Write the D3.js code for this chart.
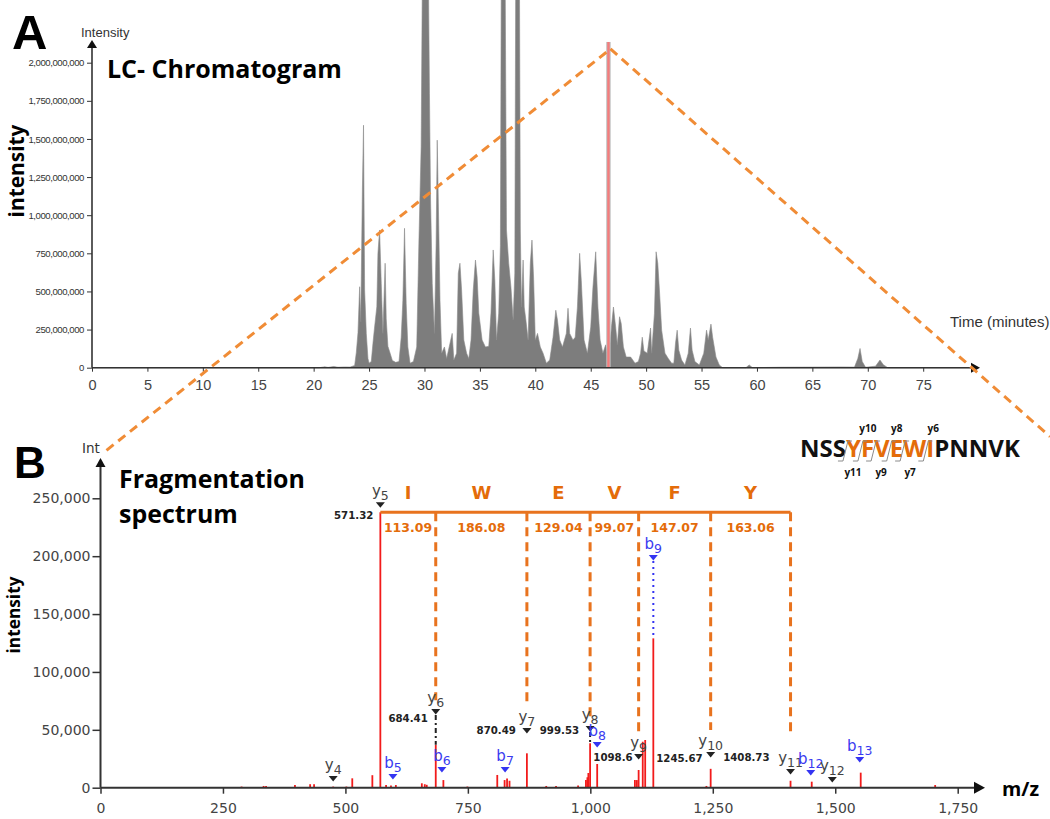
<!DOCTYPE html>
<html><head><meta charset="utf-8">
<script src="https://cdn.jsdelivr.net/npm/d3@7"></script>
<style>body{margin:0;background:#fff}svg{display:block}</style>
</head><body>
<svg id="c" width="1050" height="819"></svg>
<script>
// ---------------- DATA ----------------
// LC chromatogram (time in minutes, intensity in millions)
const chromTime = [0,20.5,21,21.3,21.8,22.2,22.8,23.3,23.7,23.85,24.0,24.15,24.25,24.4,24.5,24.6,24.75,24.9,25.0,25.2,25.35,25.5,25.7,25.8,25.95,26.1,26.25,26.45,26.55,26.7,26.9,27.1,27.4,27.7,27.9,28.05,28.2,28.35,28.5,28.7,29.0,29.3,29.5,29.7,29.85,30.3,30.45,30.55,30.7,30.9,31.05,31.15,31.3,31.4,31.55,31.8,32.0,32.5,32.65,32.9,33.05,33.2,33.35,33.55,33.8,34.0,34.2,34.4,34.6,34.75,34.9,35.2,35.5,35.8,36.0,36.2,36.35,36.5,36.7,36.85,36.95,37.25,37.4,37.6,37.8,38.0,38.15,38.25,38.55,38.65,38.75,38.9,39.0,39.15,39.35,39.55,39.7,39.85,40.0,40.2,40.45,40.7,41.0,41.3,41.6,41.85,42.0,42.2,42.45,42.8,42.95,43.1,43.4,43.6,43.8,44.0,44.15,44.4,44.7,45.0,45.2,45.45,45.65,45.85,46.1,46.35,46.6,46.9,47.05,47.25,47.4,47.6,47.75,47.95,48.2,48.6,49.0,49.3,49.5,49.65,49.8,50.1,50.4,50.5,50.75,50.9,51.05,51.2,51.4,51.7,52.0,52.3,52.5,52.65,52.8,52.95,53.2,53.5,53.8,54.0,54.15,54.4,54.8,55.2,55.45,55.6,55.85,56.0,56.3,56.6,56.9,59.0,59.3,59.6,62,65,67.5,68.8,69.1,69.3,69.5,69.8,70.7,71.1,71.4,71.8,79.3];
const chromInt  = [0,0,6,2,8,3,5,4,15,100,230,531,300,1178,1590,509,225,60,30,40,160,267,400,750,903,552,225,685,320,140,95,48,35,40,200,442,914,420,136,30,40,136,837,1450,3000,3000,1800,1100,553,225,815,1492,880,442,95,136,60,225,50,95,620,685,509,181,95,60,181,509,706,596,358,181,136,140,358,772,570,181,358,800,3000,3000,903,685,530,312,620,3000,3000,903,398,706,398,312,181,685,837,580,181,225,136,95,30,50,200,377,312,181,136,225,390,225,181,200,398,750,570,181,95,267,527,760,398,181,95,150,40,290,398,267,150,334,290,136,70,70,30,40,95,200,110,95,260,95,357,760,685,509,246,95,60,30,30,160,246,115,50,18,95,260,115,40,18,95,246,181,286,200,70,18,0,0,18,0,3,4,5,4,60,126,40,3,10,50,20,0,0];
const chromXTicks = [0,5,10,15,20,25,30,35,40,45,50,55,60,65,70,75];
const chromYTicks = [0,250,500,750,1000,1250,1500,1750,2000]; // millions
const chromYTickLabels = ["0","250,000,000","500,000,000","750,000,000","1,000,000,000","1,250,000,000","1,500,000,000","1,750,000,000","2,000,000,000"];
const highlightTime = 46.6;
const highlightInt = 2136;

// Fragmentation spectrum (m/z, intensity)
const specMz  = [288,333,338,397,428,436,475,502,514,555,571.32,583,593,603,656,662,666,684.41,700,749,810,825,830,835,870.49,910,930,975,991,994,996,999.53,1014,1091,1095,1098.6,1107,1112,1128.6,1237,1245.67,1408.73,1452,1552,1704];
const specInt = [1000,1500,1500,2300,3000,3000,1000,1000,8100,10800,238000,2300,2000,2300,3800,3000,2500,37000,6600,1000,11000,6600,8000,6000,29700,1500,1500,2000,6600,9000,12700,38300,20500,6600,6600,15300,39700,41200,129000,1500,16300,6000,5200,13000,2300];
const specXTicks = [0,250,500,750,1000,1250,1500,1750];
const specYTicks = [0,50000,100000,150000,200000,250000];

// Ion annotations
const ionType  = ["y","y","b","y","b","b","y","y","b","y","b","y","y","b","y","b"];
const ionNum   = ["4","5","5","6","6","7","7","8","8","9","9","10","11","12","12","13"];
const ionMz    = [475,571.32,597,684.41,697,826,870.49,999.53,1014,1098.6,1128.6,1245.67,1408.73,1450,1494,1550];
const ionMarkerInt = [7500,244000,9200,65400,15300,15300,49000,50700,36900,26500,198400,28200,13600,12700,6600,23900];
const ionPeakInt   = [null,null,null,37000,null,null,null,38300,null,null,129000,null,null,null,null,null];

const massLabel    = ["571.32","684.41","870.49","999.53","1098.6","1245.67","1408.73"];
const massLabelMz  = [571.32,684.41,870.49,999.53,1098.6,1245.67,1408.73];
const massLabelInt = [235500,60200,49800,49800,26500,25900,26500];

// Sequence ladder
const residue     = ["I","W","E","V","F","Y"];
const residueMass = ["113.09","186.08","129.04","99.07","147.07","163.06"];
const ladderMz    = [571.32,684.41,870.49,999.53,1098.6,1245.67,1408.73];
const ladderEndInt = [null,75600,74300,61300,47200,49800,44000];
const ladderInt   = 238000;

const peptide = "NSSYFVEWIPNNVK";
const peptideHighlight = [3,4,5,6,7,8];
const breakAfter = [2,3,4,5,6,7];
const breakLabel = ["y11","y10","y9","y8","y7","y6"];

// ---------------- DRAWING ----------------
const svg = d3.select("#c");
const ORANGE_Z = "#F08C36", ORANGE = "#E46C0A", ORANGE_L = "#E8731E";
const AX = "#333";
function fit(sel, target){
  const fs = +sel.attr("font-size");
  const w = sel.node().getComputedTextLength();
  sel.attr("font-size", fs*target/w);
  return sel;
}

// ---- Panel A ----
const cx = d3.scaleLinear().domain([0,75]).range([92,923.2]);
const cy = d3.scaleLinear().domain([0,2000]).range([367.7,62.7]);

const pts = chromTime.map((t,i)=>[t,chromInt[i]]);
svg.append("path").datum(pts)
  .attr("fill","#7d7d7d").attr("stroke","#8a8a8a").attr("stroke-width",0.6)
  .attr("d", d3.area().x(d=>cx(d[0])).y0(cy(0)).y1(d=>cy(d[1])));

// highlighted scan
svg.append("rect").attr("x",cx(highlightTime)-2.2).attr("width",4.4)
  .attr("y",cy(highlightInt)).attr("height",cy(0)-cy(highlightInt)).attr("fill","#bdbdbd");
svg.append("line").attr("x1",cx(highlightTime)).attr("x2",cx(highlightTime))
  .attr("y1",cy(highlightInt)).attr("y2",cy(0)).attr("stroke","#F47C7C").attr("stroke-width",2.4);

// axes A
const gxA = svg.append("g").attr("transform",`translate(0,${cy(0)})`)
  .call(d3.axisBottom(cx).tickValues(chromXTicks).tickSize(4).tickPadding(8));
gxA.select(".domain").remove();
gxA.selectAll("line").attr("stroke",AX);
gxA.selectAll("text").attr("font-family","Liberation Sans, Arial").attr("font-size",14.5).attr("fill","#444");
svg.append("line").attr("x1",cx(0)).attr("x2",973).attr("y1",cy(0)).attr("y2",cy(0)).attr("stroke",AX).attr("stroke-width",1.6);
svg.append("path").attr("d",`M${980},${cy(0)} l-9,-5 l0,10 Z`).attr("fill","#111");

const gyA = svg.append("g").attr("transform",`translate(${cx(0)},0)`)
  .call(d3.axisLeft(cy).tickValues(chromYTicks).tickSize(5).tickPadding(3).tickFormat((d,i)=>chromYTickLabels[i]));
gyA.select(".domain").remove();
gyA.selectAll("line").attr("stroke",AX);
gyA.selectAll("text").attr("font-family","Liberation Sans, Arial").attr("font-size",9.6).attr("letter-spacing","-0.45").attr("fill","#333");
svg.append("line").attr("x1",cx(0)).attr("x2",cx(0)).attr("y1",cy(0)).attr("y2",46).attr("stroke",AX).attr("stroke-width",1.6);
svg.append("path").attr("d",`M${cx(0)},${40} l-5,8 l10,0 Z`).attr("fill","#111");

svg.append("text").attr("x",81).attr("y",37).text("Intensity")
  .attr("font-family","Liberation Sans, Arial").attr("font-size",13).attr("fill","#333");
svg.append("text").attr("x",950).attr("y",327).text("Time (minutes)")
  .attr("font-family","Liberation Sans, Arial").attr("font-size",15).attr("fill","#333");
svg.append("text").attr("x",12).attr("y",49).text("A")
  .attr("font-family","Liberation Sans, Arial").attr("font-weight","bold").attr("font-size",49).attr("fill","#000");
fit(svg.append("text").attr("x",107).attr("y",78).text("LC- Chromatogram")
  .attr("font-family","Open Sans").attr("font-weight","bold").attr("font-size",22).attr("fill","#000"), 235);
fit(svg.append("text").attr("transform","translate(24,171) rotate(-90)").attr("text-anchor","middle").text("intensity")
  .attr("font-family","Open Sans").attr("font-weight","bold").attr("font-size",18).attr("fill","#000"), 93);

// ---- Panel B ----
const sx = d3.scaleLinear().domain([0,1750]).range([100.5,957.7]);
const sy = d3.scaleLinear().domain([0,250000]).range([787.7,498.3]);

// zoom lines
const apex = [cx(highlightTime)+2, cy(highlightInt)+7];
svg.append("line").attr("x1",sx(0)+6).attr("y1",sy(250000)-48).attr("x2",apex[0]).attr("y2",apex[1])
  .attr("stroke",ORANGE_Z).attr("stroke-width",3).attr("stroke-dasharray","9,6");
svg.append("line").attr("x1",apex[0]).attr("y1",apex[1]).attr("x2",1050).attr("y2",apex[1]+(1050-apex[0])*0.882)
  .attr("stroke",ORANGE_Z).attr("stroke-width",3).attr("stroke-dasharray","9,6");

// peaks
svg.append("g").selectAll("line").data(specMz).join("line")
  .attr("x1",d=>sx(d)).attr("x2",d=>sx(d)).attr("y1",sy(0)).attr("y2",(d,i)=>sy(specInt[i]))
  .attr("stroke","#F21B1B").attr("stroke-width",1.8);

// axes B
const gxB = svg.append("g").attr("transform",`translate(0,${sy(0)})`)
  .call(d3.axisBottom(sx).tickValues(specXTicks).tickSize(6).tickPadding(9).tickFormat(d3.format(",")));
gxB.select(".domain").remove();
gxB.selectAll("line").attr("stroke",AX).attr("stroke-width",1.5);
gxB.selectAll("text").attr("font-family","DejaVu Sans, Verdana").attr("font-size",14).attr("fill","#444");
svg.append("line").attr("x1",sx(0)).attr("x2",978).attr("y1",sy(0)).attr("y2",sy(0)).attr("stroke",AX).attr("stroke-width",2);
svg.append("path").attr("d",`M${985},${sy(0)} l-11,-6 l0,12 Z`).attr("fill","#111");

const gyB = svg.append("g").attr("transform",`translate(${sx(0)},0)`)
  .call(d3.axisLeft(sy).tickValues(specYTicks).tickSize(8).tickPadding(2).tickFormat(d3.format(",")));
gyB.select(".domain").remove();
gyB.selectAll("line").attr("stroke",AX).attr("stroke-width",1.5);
gyB.selectAll("text").attr("font-family","DejaVu Sans, Verdana").attr("font-size",14).attr("fill","#444");
svg.append("line").attr("x1",sx(0)).attr("x2",sx(0)).attr("y1",sy(0)).attr("y2",465).attr("stroke",AX).attr("stroke-width",2);
svg.append("path").attr("d",`M${sx(0)},${458} l-5,9 l10,0 Z`).attr("fill","#111");

svg.append("text").attr("x",82).attr("y",453).text("Int")
  .attr("font-family","DejaVu Sans, Verdana").attr("font-size",13.5).attr("fill","#333");
fit(svg.append("text").attr("x",1002).attr("y",796).text("m/z")
  .attr("font-family","Open Sans").attr("font-weight","bold").attr("font-size",22).attr("fill","#000"), 37);
svg.append("text").attr("x",14).attr("y",478).text("B")
  .attr("font-family","Liberation Sans, Arial").attr("font-weight","bold").attr("font-size",44).attr("fill","#000");
const fr = fit(svg.append("text").attr("x",119).attr("y",488).text("Fragmentation")
  .attr("font-family","Open Sans").attr("font-weight","bold").attr("font-size",23).attr("fill","#000"), 186);
svg.append("text").attr("x",119).attr("y",523).text("spectrum")
  .attr("font-family","Open Sans").attr("font-weight","bold").attr("font-size",fr.attr("font-size")).attr("fill","#000");
fit(svg.append("text").attr("transform","translate(20,615) rotate(-90)").attr("text-anchor","middle").text("intensity")
  .attr("font-family","Open Sans").attr("font-weight","bold").attr("font-size",16).attr("fill","#000"), 77);

// ladder
const ladG = svg.append("g");
ladG.append("line").attr("x1",sx(ladderMz[0])).attr("x2",sx(ladderMz[ladderMz.length-1]))
  .attr("y1",sy(ladderInt)).attr("y2",sy(ladderInt)).attr("stroke",ORANGE_L).attr("stroke-width",3);
ladderMz.forEach((m,i)=>{
  if(ladderEndInt[i]!==null){
    ladG.append("line").attr("x1",sx(m)).attr("x2",sx(m)).attr("y1",sy(ladderInt)).attr("y2",sy(ladderEndInt[i]))
      .attr("stroke",ORANGE_L).attr("stroke-width",3).attr("stroke-dasharray","9,6");
  }
});
residue.forEach((r,i)=>{
  const mid = (sx(ladderMz[i])+sx(ladderMz[i+1]))/2;
  ladG.append("text").attr("x",mid).attr("y",sy(ladderInt)-13).attr("text-anchor","middle").text(r)
    .attr("font-family","DejaVu Sans, Verdana").attr("font-weight","bold").attr("font-size",18).attr("fill",ORANGE);
  ladG.append("text").attr("x",mid).attr("y",sy(ladderInt)+20).attr("text-anchor","middle").text(residueMass[i])
    .attr("font-family","DejaVu Sans, Verdana").attr("font-weight","bold").attr("font-size",12.5).attr("fill",ORANGE);
});

// ion markers
const ionG = svg.append("g");
ionMz.forEach((m,i)=>{
  const x = sx(m), ty = sy(ionMarkerInt[i]);
  const col = ionType[i]==="b" ? "#3434F2" : "#222";
  if(ionPeakInt[i]!==null){
    ionG.append("line").attr("x1",x).attr("x2",x).attr("y1",ty+3).attr("y2",sy(ionPeakInt[i]))
      .attr("stroke",ionType[i]==="b"?"#3434F2":"#222").attr("stroke-width",2)
      .attr("stroke-dasharray", ionType[i]==="b" ? "2,4" : "5,3,2,3");
  }
  ionG.append("path").attr("d",`M${x-4.5},${ty-3} L${x+4.5},${ty-3} L${x},${ty+2.5} Z`).attr("fill",col);
  const t = ionG.append("text").attr("x",x).attr("y",ty-9).attr("text-anchor","middle")
    .attr("font-family","DejaVu Sans, Verdana").attr("fill",ionType[i]==="b"?"#3a3af0":"#444");
  t.append("tspan").attr("font-size",15).text(ionType[i]);
  t.append("tspan").attr("font-size",12.5).attr("dy",4).text(ionNum[i]);
});
const massDx = [7,8,11,11,6,8,21];
massLabel.forEach((s,i)=>{
  ionG.append("text").attr("x",sx(massLabelMz[i])-massDx[i]).attr("y",sy(massLabelInt[i])+4)
    .attr("text-anchor","end").text(s)
    .attr("font-family","DejaVu Sans, Verdana").attr("font-weight","bold").attr("font-size",10.2).attr("fill","#222");
});

// peptide sequence
const seqG = svg.append("g");
const seqText = seqG.append("text").attr("x",800).attr("y",457)
  .attr("font-family","Open Sans").attr("font-weight","bold").attr("font-size",21);
peptide.split("").forEach((c,i)=>{
  seqText.append("tspan").text(c).attr("fill", peptideHighlight.includes(i)?ORANGE:"#111");
});
const w0 = seqText.node().getComputedTextLength();
seqText.attr("font-size", 21*220/w0);
breakAfter.forEach((bi,k)=>{
  const ext = seqText.node().getExtentOfChar(bi);
  const bx = ext.x + ext.width;
  const top = 441, bot = 461;
  seqG.append("path").attr("d",`M${bx+6},${top} L${bx+2},${top} L${bx-3},${bot} L${bx-8},${bot}`)
    .attr("fill","none").attr("stroke","#8c8c8c").attr("stroke-width",1);
  const above = k%2===1;
  seqG.append("text").attr("x",bx+7).attr("y",above?432:476).attr("text-anchor","middle").text(breakLabel[k])
    .attr("font-family","Open Sans").attr("font-weight","bold").attr("font-size",10).attr("fill","#111");
});
</script>
</body></html>
